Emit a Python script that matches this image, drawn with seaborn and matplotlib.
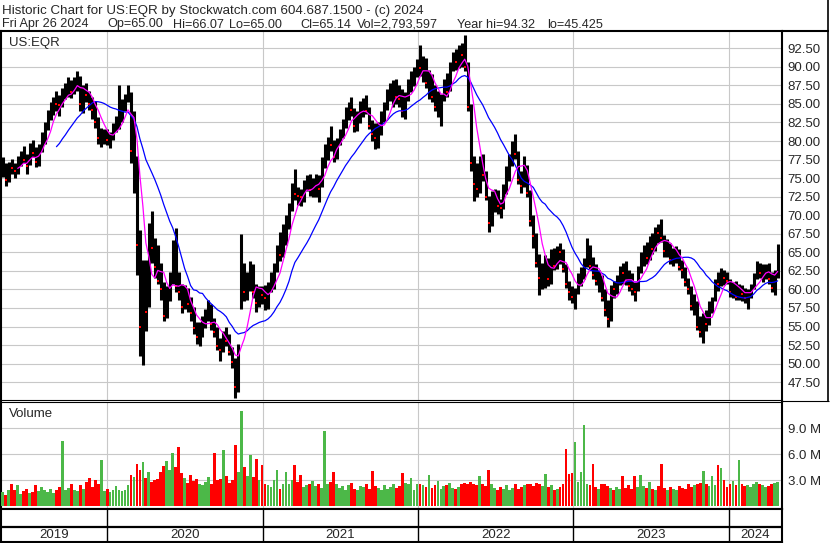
import matplotlib
matplotlib.use("Agg")
import matplotlib.pyplot as plt
from matplotlib.lines import Line2D
import numpy as np
import pandas as pd
import seaborn as sns

# weekly bars, week ending Friday: first 2019-05-03, last 2024-04-26
first_week = "2019-05-03"

high = [
    # 2019 May..Dec
    77.8, 77.0, 77.2, 77.6, 77.0,
    78.0, 78.6, 79.3, 78.2,
    79.8, 80.2, 79.2, 79.6,
    81.2, 82.6, 84.2, 85.3, 86.0,
    86.8, 86.2, 87.2, 87.8,
    88.6, 88.2, 88.6, 89.5,
    88.8, 87.6, 87.8, 86.8, 86.0,
    85.4, 83.2, 81.8, 81.6,
    # 2020
    81.6, 81.2, 82.4, 83.4, 87.6,
    85.6, 86.4, 87.6, 86.6,
    84.0, 78.0, 68.0, 64.0,
    64.0, 69.0, 70.6, 67.0,
    66.0, 63.6, 61.0, 60.4, 62.4,
    66.6, 68.3, 62.4, 60.8,
    60.6, 60.2, 59.0, 57.6, 55.6,
    55.6, 56.4, 57.4, 58.6,
    58.0, 56.2, 55.0, 53.4,
    54.4, 55.0, 54.0, 52.2, 50.8,
    52.6, 67.5, 63.6, 62.4,
    63.8, 63.4, 60.8, 60.4,
    # 2021
    60.4, 60.6, 61.0, 62.4, 63.6,
    66.0, 67.8, 68.8, 70.0,
    71.6, 74.4, 76.2, 73.8,
    73.6, 74.8, 75.4, 75.6, 75.0,
    75.6, 75.4, 77.8, 79.6,
    80.6, 82.0, 80.2, 80.4,
    81.6, 83.0, 84.6, 85.2, 86.0,
    84.4, 84.0, 85.4, 85.8,
    86.2, 84.6, 82.8, 82.4,
    82.6, 84.0, 85.2, 87.0, 87.8,
    88.2, 88.4, 87.6, 87.0,
    86.6, 88.4, 89.4, 90.0, 91.0,
    # 2022
    93.0, 91.4, 91.2, 89.6,
    89.0, 87.6, 86.8, 86.4,
    88.4, 89.2, 90.6, 92.0,
    92.4, 93.0, 93.2, 94.3, 90.6,
    85.0, 78.0, 77.0, 78.0,
    78.2, 76.0, 72.6, 73.2,
    73.6, 73.4, 72.2, 74.2, 76.6,
    78.2, 80.0, 80.9, 78.6,
    76.0, 78.0, 76.8, 73.4, 70.0,
    67.6, 64.8, 63.6, 64.6,
    64.2, 65.4, 65.6, 65.8,
    66.2, 65.4, 63.4, 61.2, 60.4,
    # 2023
    60.2, 62.2, 63.0, 64.2,
    67.0, 66.0, 64.4, 63.4,
    62.6, 62.0, 60.0, 58.6, 60.6,
    61.2, 62.0, 63.2, 63.6,
    63.8, 62.6, 62.2, 61.0,
    63.2, 65.0, 66.0, 66.4, 67.2,
    67.6, 68.4, 68.8, 69.5,
    67.4, 66.8, 66.2, 65.6,
    65.8, 65.4, 64.0, 63.0, 61.6,
    60.4, 59.4, 58.4, 56.4,
    56.8, 57.2, 58.4, 59.0,
    61.4, 62.4, 62.9, 62.6, 62.4,
    # 2024 Jan..Apr
    61.4, 61.0, 61.2, 60.8,
    60.6, 60.2, 60.0, 60.8,
    62.2, 63.8, 63.6, 63.4, 63.4,
    63.6, 62.4, 62.6, 66.1,
]

low = [
    # 2019
    75.2, 73.9, 74.5, 75.6, 75.0,
    75.5, 76.6, 77.0, 75.6,
    76.8, 77.8, 76.5, 76.6,
    78.5, 79.6, 81.5, 82.8, 83.5,
    84.0, 83.4, 84.6, 85.6,
    86.0, 85.8, 86.4, 86.8,
    84.0, 83.8, 85.2, 84.2, 83.0,
    81.8, 79.6, 79.2, 79.6,
    # 2020
    79.4, 79.0, 80.2, 81.2, 81.6,
    82.6, 84.0, 85.2, 77.0,
    73.0, 62.0, 51.0, 49.8,
    54.4, 57.6, 63.6, 61.6,
    60.8, 58.6, 55.8, 56.2, 58.4,
    60.8, 59.6, 58.6, 56.8,
    57.4, 57.0, 55.8, 54.0, 52.6,
    52.4, 53.6, 54.8, 55.8,
    54.6, 53.6, 51.8, 50.4,
    51.6, 52.4, 51.2, 49.4, 45.4,
    46.2, 57.4, 58.4, 58.6,
    59.8, 58.8, 57.0, 57.6,
    # 2021
    58.0, 57.2, 57.4, 59.6, 60.0,
    62.4, 63.8, 64.4, 66.0,
    68.2, 70.6, 72.0, 71.4,
    71.2, 71.8, 73.2, 72.6, 72.4,
    72.4, 71.8, 73.8, 76.4,
    77.4, 78.6, 77.2, 77.6,
    79.4, 80.4, 81.8, 82.8, 83.4,
    81.2, 81.4, 82.4, 83.2,
    83.6, 81.6, 80.0, 78.9,
    79.0, 80.8, 82.6, 84.2, 85.4,
    84.6, 85.0, 84.6, 83.2,
    83.0, 85.4, 86.6, 87.4, 88.6,
    # 2022
    88.8, 88.0, 87.2, 85.6,
    85.2, 84.0, 83.2, 82.0,
    85.4, 86.0, 86.8, 89.4,
    89.6, 89.8, 90.0, 89.4, 84.0,
    76.0, 71.9, 72.4, 73.0,
    74.6, 72.0, 67.7, 68.6,
    70.4, 70.2, 69.6, 70.8, 72.8,
    74.6, 76.6, 77.6, 74.2,
    73.0, 73.8, 72.4, 68.6, 65.6,
    63.0, 59.3, 60.0, 60.2,
    60.4, 60.8, 62.6, 62.8,
    63.4, 62.4, 60.2, 58.6, 58.2,
    # 2023
    57.3, 59.4, 60.4, 61.4,
    63.0, 62.6, 61.4, 60.6,
    59.6, 58.4, 56.4, 54.9, 55.8,
    58.8, 59.4, 60.6, 60.8,
    60.6, 59.8, 59.2, 58.4,
    59.8, 62.2, 63.2, 63.4, 64.0,
    64.8, 65.2, 66.2, 66.4,
    64.4, 64.4, 63.4, 63.2,
    63.6, 62.6, 61.6, 60.4, 59.4,
    57.2, 56.6, 54.6, 53.6,
    52.8, 54.4, 55.2, 56.8,
    58.4, 59.8, 60.4, 60.6, 60.8,
    # 2024
    59.0, 58.8, 58.6, 58.6,
    58.4, 58.2, 57.4, 58.8,
    60.0, 61.4, 61.6, 61.0, 61.4,
    60.8, 59.6, 59.3, 61.6,
]

close = [
    # 2019
    76.4, 74.8, 76.8, 76.3, 76.0,
    77.6, 78.0, 77.4, 76.6,
    79.0, 78.4, 77.2, 79.2,
    80.8, 82.2, 83.6, 84.6, 85.6,
    85.0, 84.8, 86.6, 87.0,
    88.0, 86.6, 88.0, 88.6,
    85.0, 86.6, 86.2, 85.0, 84.2,
    82.6, 80.4, 80.6, 80.8,
    # 2020
    80.2, 80.8, 82.0, 82.8, 83.2,
    84.8, 85.6, 86.8, 78.6,
    80.0, 66.0, 55.0, 61.0,
    57.0, 67.6, 65.6, 63.0,
    61.2, 60.0, 56.4, 59.4, 60.8,
    66.0, 60.4, 59.6, 57.6,
    58.6, 58.0, 56.8, 54.8, 53.6,
    54.6, 55.8, 56.6, 57.0,
    55.4, 54.2, 52.4, 51.8,
    53.6, 53.0, 51.6, 50.2, 46.8,
    51.0, 60.8, 59.6, 61.4,
    62.4, 59.6, 58.2, 59.8,
    # 2021
    59.2, 58.8, 60.2, 61.8, 62.8,
    65.0, 64.6, 68.2, 69.4,
    70.8, 73.8, 72.8, 72.6,
    72.4, 74.2, 74.6, 73.4, 74.2,
    75.0, 73.6, 77.2, 78.6,
    80.2, 79.4, 77.8, 79.8,
    81.0, 82.6, 84.0, 84.6, 84.2,
    82.0, 83.6, 84.6, 85.2,
    84.0, 82.0, 81.0, 80.4,
    81.4, 83.6, 84.6, 86.4, 86.8,
    87.4, 86.0, 85.6, 84.0,
    85.8, 87.8, 88.6, 89.4, 90.6,
    # 2022
    89.8, 90.6, 87.8, 88.4,
    86.0, 84.6, 85.4, 85.8,
    87.8, 86.6, 90.2, 91.4,
    90.6, 92.4, 91.6, 90.0, 84.6,
    77.0, 74.2, 73.6, 77.4,
    75.4, 72.4, 69.0, 72.6,
    72.8, 71.2, 71.0, 73.6, 76.0,
    77.2, 79.6, 78.2, 74.8,
    74.0, 76.6, 73.0, 69.2, 67.2,
    63.6, 61.6, 62.4, 63.8,
    61.4, 64.8, 63.2, 65.2,
    65.0, 62.8, 60.8, 59.6, 59.0,
    # 2023
    59.8, 61.8, 62.4, 63.6,
    65.2, 63.2, 62.0, 61.2,
    61.8, 58.8, 57.2, 56.0, 60.2,
    60.0, 61.6, 62.4, 62.2,
    61.2, 60.4, 60.0, 59.6,
    62.8, 64.4, 65.4, 64.2, 66.6,
    65.4, 67.8, 67.6, 67.0,
    65.2, 66.0, 64.0, 64.8,
    65.0, 63.0, 62.6, 61.0, 60.0,
    57.8, 58.4, 55.0, 54.2,
    56.4, 55.4, 57.8, 58.6,
    61.0, 60.8, 62.2, 61.6, 61.2,
    # 2024
    59.6, 60.4, 59.0, 60.2,
    59.4, 58.8, 59.6, 60.4,
    61.8, 63.2, 62.2, 62.6, 63.0,
    61.4, 60.2, 62.2, 65.1,
]

# volume, millions of shares
volume = [
    # 2019
    1.6, 1.3, 1.8, 2.5, 1.9,
    2.4, 1.4, 1.7, 2.0,
    1.5, 1.6, 2.4, 1.7,
    2.2, 1.8, 1.6, 2.0, 1.5,
    1.9, 2.2, 7.5, 1.8,
    2.1, 2.6, 1.9, 1.7,
    2.4, 2.0, 2.8, 3.3, 2.2,
    3.0, 2.5, 5.3, 1.7,
    # 2020
    2.0, 1.6, 1.8, 2.3, 1.9,
    1.7, 1.9, 2.4, 3.6,
    3.4, 4.9, 4.2, 5.1,
    3.2, 4.0, 2.8, 3.0,
    3.1, 3.9, 4.6, 5.2, 4.2,
    6.1, 4.5, 6.9, 3.8,
    3.2, 2.7, 3.6, 2.9, 3.1,
    2.5, 2.4, 2.8, 3.4,
    2.6, 6.2, 3.0, 3.1,
    6.5, 3.5, 2.7, 3.0, 7.1,
    3.9, 11.0, 4.5, 3.5,
    5.9, 3.4, 5.5, 3.0,
    # 2021
    4.7, 2.6, 2.4, 2.2, 3.0,
    4.2, 2.0, 2.6, 4.0,
    2.5, 3.0, 4.8, 2.8,
    3.6, 2.2, 2.4, 2.6, 2.9,
    2.3, 2.5, 2.1, 8.7,
    2.6, 2.8, 3.9, 2.5,
    2.1, 2.3, 1.9, 2.4, 2.7,
    2.0, 1.8, 2.3, 2.2,
    2.5, 2.0, 4.1, 2.3,
    2.1, 1.9, 2.4, 2.0, 2.2,
    2.6, 2.1, 2.3, 3.8,
    2.7, 2.5, 3.2, 1.9, 2.6,
    # 2022
    2.6, 2.4, 2.2, 3.6,
    2.1, 2.4, 2.9, 2.0,
    2.3, 2.4, 2.7, 2.1,
    2.0, 2.2, 2.5, 2.7, 2.6,
    2.8, 2.6, 2.4, 3.5,
    2.5, 2.3, 4.2, 2.6,
    2.1, 1.9, 2.2, 2.0, 2.4,
    1.8, 2.1, 2.6, 2.0,
    2.2, 2.4, 2.6, 2.5, 2.3,
    2.7, 2.5, 2.3, 3.7,
    2.2, 2.4, 1.9, 2.0,
    2.2, 2.5, 6.6, 3.7, 3.8,
    # 2023
    7.4, 2.8, 3.9, 9.4,
    2.6, 2.4, 4.9, 2.2,
    2.0, 2.6, 2.5, 2.3, 2.1,
    1.9, 2.2, 2.0, 3.5,
    2.1, 2.4, 2.0, 3.5,
    2.2, 3.6, 2.3, 2.1, 2.8,
    2.0, 1.9, 2.3, 4.9,
    2.1, 1.8, 2.2, 2.0,
    1.9, 2.3, 2.1, 2.0, 2.6,
    2.2, 2.4, 2.5, 2.7,
    4.1, 2.6, 2.3, 3.5,
    2.4, 4.7, 4.4, 3.0, 2.2,
    # 2024
    2.5, 2.9, 2.4, 5.3,
    2.6, 2.3, 2.4, 2.2,
    2.5, 2.8, 2.6, 2.4, 2.2,
    2.3, 2.5, 2.7, 2.8,
]

years = ["2019", "2020", "2021", "2022", "2023", "2024"]
year_starts = ["2020-01-01", "2021-01-01", "2022-01-01", "2023-01-01", "2024-01-01"]
price_ticks = [47.5, 50, 52.5, 55, 57.5, 60, 62.5, 65, 67.5, 70, 72.5, 75,
               77.5, 80, 82.5, 85, 87.5, 90, 92.5]
volume_ticks = [3, 6, 9]

header1 = "Historic Chart for US:EQR by Stockwatch.com 604.687.1500 - (c) 2024"
header2 = [("Fri Apr 26 2024", 2), ("Op=65.00", 107), ("Hi=66.07", 173),
           ("Lo=65.00", 229), ("Cl=65.14", 300), ("Vol=2,793,597", 357),
           ("Year hi=94.32", 457), ("lo=45.425", 547)]

df = pd.DataFrame({"high": high, "low": low, "close": close, "volume": volume})
df["week"] = pd.date_range(first_week, periods=len(df), freq="W-FRI")
df["x"] = df["week"] - pd.Timedelta(days=1)
df["ma_fast"] = df["close"].rolling(6).mean()
df["ma_slow"] = df["close"].rolling(19).mean()
df["down"] = df["close"].diff() < 0

sns.set_style("white")
plt.rcParams["font.family"] = ["Liberation Sans", "DejaVu Sans"]
plt.rcParams["font.size"] = 9

W, H = 830, 543
fig = plt.figure(figsize=(W / 100, H / 100), dpi=100)


def rect(x0, y0, x1, y1):
    return [x0 / W, 1 - y1 / H, (x1 - x0) / W, (y1 - y0) / H]


def fig_line(x0, y0, x1, y1, lw):
    fig.add_artist(Line2D([x0 / W, x1 / W], [1 - y0 / H, 1 - y1 / H],
                          color="black", lw=lw, solid_capstyle="butt"))


ax = fig.add_axes(rect(1, 31, 782, 400))
axv = fig.add_axes(rect(1, 402, 782, 509), sharex=ax)
axb = fig.add_axes(rect(1, 509, 782, 542), sharex=ax)

jan2020 = pd.Timestamp("2020-01-01")
px_per_day = 622 / 1461
xmin = jan2020 - pd.Timedelta(days=105.7 / px_per_day)
xmax = pd.Timestamp("2024-01-01") + pd.Timedelta(days=53.3 / px_per_day)
bounds = [pd.Timestamp(d) for d in year_starts]
grid_c = "#c8c8c8"

# price panel
ax.vlines(df["x"], df["low"], df["high"], color="black", lw=2.2, zorder=3)
ax.scatter(df.loc[df["down"], "x"], df.loc[df["down"], "close"], marker="s",
           s=2.5, color="red", linewidths=0, zorder=4)
sns.lineplot(x=df["x"], y=df["ma_slow"], color="#0000ff", lw=0.9, ax=ax, zorder=5)
sns.lineplot(x=df["x"], y=df["ma_fast"], color="#ff00ff", lw=0.9, ax=ax, zorder=6)
ax.set_xlim(xmin, xmax)
ax.set_ylim(45.1, 94.83)
ax.set_yticks(price_ticks)
ax.set_yticklabels([f"{t:.2f}" for t in price_ticks])
ax.yaxis.tick_right()
ax.set_xticks(bounds)
ax.grid(True, color=grid_c, lw=0.8)
ax.set_axisbelow(True)
ax.tick_params(axis="x", labelbottom=False, length=0)
ax.tick_params(axis="y", length=0, pad=4, labelsize=9.5)
ax.set_xlabel("")
ax.set_ylabel("")
ax.text(8 / 781, 1 - 15 / 369, "US:EQR", transform=ax.transAxes, fontsize=9.5,
        va="baseline", ha="left")

# volume panel
vol_colors = np.where(df["down"], "#ff0000", "#4cb848")
axv.bar(df["x"], df["volume"], width=6.5, color=vol_colors, linewidth=0, zorder=3)
axv.set_ylim(-0.35, 12.07)
axv.set_yticks(volume_ticks)
axv.set_yticklabels([f"{t:.1f} M" for t in volume_ticks])
axv.yaxis.tick_right()
axv.grid(True, color=grid_c, lw=0.8)
axv.set_axisbelow(True)
axv.tick_params(axis="x", labelbottom=False, length=0)
axv.tick_params(axis="y", length=0, pad=4, labelsize=9.5)
axv.text(8 / 781, 1 - 15 / 107, "Volume", transform=axv.transAxes, fontsize=9.5,
         va="baseline", ha="left")

# year strip
axb.set_ylim(0, 33)
axb.set_yticks([])
axb.tick_params(axis="x", labelbottom=False, length=0)
axb.axhline(15, color="black", lw=1.6)
for b in bounds:
    axb.axvline(b, color="black", lw=1.0)
edges = [xmin] + bounds + [xmax]
for i, label in enumerate(years):
    mid = edges[i] + (edges[i + 1] - edges[i]) / 2
    axb.text(mid, 3.5, label, ha="center", va="baseline", fontsize=9.5)

for a in (ax, axv, axb):
    for s in a.spines.values():
        s.set_color("black")
        s.set_linewidth(1.5)
ax.spines["bottom"].set_linewidth(0.8)
axv.spines["top"].set_linewidth(0.8)

# header and outer frame
fig.text(2 / W, 1 - 14 / H, header1, fontsize=9.6, va="baseline")
for txt, xp in header2:
    fig.text(xp / W, 1 - 27.5 / H, txt, fontsize=9.1, va="baseline")
fig_line(782, 31, 829, 31, 1.5)
fig_line(828, 0, 828, 402, 1.2)
fig_line(782, 401, 829, 401, 0.8)

fig.savefig("out.png", dpi=100)
